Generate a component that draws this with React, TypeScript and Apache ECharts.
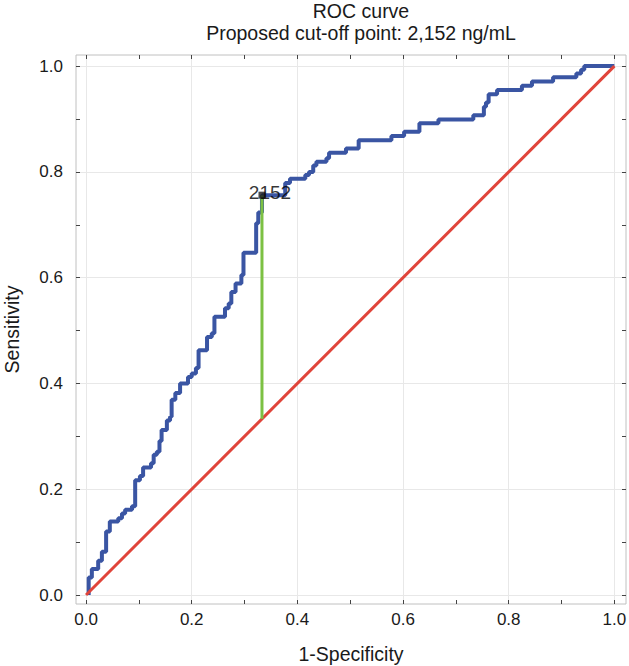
import React, { useEffect, useRef } from "react";
import * as echarts from "echarts";

// ROC curve vertices (step 'end': horizontal to fpr, then up to tpr)
const rocFpr = [
  0.005, 0.005, 0.011, 0.023, 0.03, 0.038, 0.045, 0.061, 0.068, 0.074, 0.087,
  0.093, 0.102, 0.108, 0.123, 0.128, 0.134, 0.139, 0.143, 0.153, 0.159, 0.162,
  0.169, 0.178, 0.193, 0.2, 0.208, 0.213, 0.229, 0.238, 0.243, 0.263, 0.27,
  0.275, 0.283, 0.294, 0.298, 0.322, 0.326, 0.333, 0.377, 0.386, 0.415, 0.422,
  0.43, 0.436, 0.455, 0.46, 0.492, 0.516, 0.578, 0.602, 0.631, 0.667, 0.733,
  0.753, 0.757, 0.762, 0.778, 0.825, 0.844, 0.884, 0.928, 0.937, 0.943, 1.0,
];
const rocTpr = [
  0.0, 0.033, 0.049, 0.065, 0.082, 0.12, 0.139, 0.145, 0.154, 0.161, 0.168,
  0.217, 0.225, 0.241, 0.249, 0.265, 0.271, 0.291, 0.312, 0.33, 0.337, 0.369,
  0.382, 0.4, 0.412, 0.419, 0.429, 0.463, 0.488, 0.495, 0.526, 0.542, 0.551,
  0.573, 0.589, 0.605, 0.647, 0.703, 0.723, 0.756, 0.779, 0.787, 0.794, 0.8,
  0.812, 0.819, 0.826, 0.836, 0.844, 0.86, 0.868, 0.876, 0.892, 0.899, 0.907,
  0.923, 0.931, 0.947, 0.955, 0.963, 0.971, 0.979, 0.986, 0.993, 1.0, 1.0,
];

const diagonal = [
  [0, 0],
  [1, 1],
];

const cutoffFpr = 0.333;
const cutoffTpr = 0.756;
const cutoffLabel = "2152";

const majorTicks = [0, 0.2, 0.4, 0.6, 0.8, 1.0];
const minorTicks = [0, 0.1, 0.2, 0.3, 0.4, 0.5, 0.6, 0.7, 0.8, 0.9, 1.0];

const titleLine1 = "ROC curve";
const titleLine2 = "Proposed cut-off point: 2,152 ng/mL";
const xName = "1-Specificity";
const yName = "Sensitivity";

const FONT = "'Liberation Sans', Arial, Helvetica, sans-serif";

export default function App() {
  const ref = useRef<HTMLDivElement>(null);

  useEffect(() => {
    if (!ref.current) return;
    const chart = echarts.init(ref.current, undefined, { renderer: "svg" });

    const tickCommon = {
      show: true,
      inside: true,
      length: 4,
      customValues: minorTicks,
      lineStyle: { color: "#444", width: 1 },
    };
    const labelCommon = {
      customValues: majorTicks,
      formatter: (v: number) => v.toFixed(1),
      fontSize: 17,
      color: "#1a1a1a",
      fontFamily: FONT,
    };
    const noLine = { show: false, onZero: false };

    const rocData = rocFpr.map((x, i) => [x, rocTpr[i]]);

    const gridLines = [
      ...majorTicks.map((v) => ({ xAxis: v })),
      ...majorTicks.map((v) => ({ yAxis: v })),
    ];

    chart.setOption({
      animation: false,
      backgroundColor: "#ffffff",
      textStyle: { fontFamily: FONT },
      graphic: [
        {
          type: "text",
          x: 361,
          y: 11,
          style: {
            text: titleLine1,
            textAlign: "center",
            textVerticalAlign: "middle",
            fontSize: 19.5,
            fontFamily: FONT,
            fill: "#1a1a1a",
          },
        },
        {
          type: "text",
          x: 361,
          y: 33,
          style: {
            text: titleLine2,
            textAlign: "center",
            textVerticalAlign: "middle",
            fontSize: 19.5,
            fontFamily: FONT,
            fill: "#1a1a1a",
          },
        },
      ],
      grid: {
        left: 76,
        top: 55,
        width: 550,
        height: 549,
        containLabel: false,
        outerBoundsMode: "none",
        show: true,
        borderColor: "#c0c0c0",
        borderWidth: 1,
        backgroundColor: "transparent",
      },
      xAxis: [
        {
          type: "value",
          position: "bottom",
          min: -0.019,
          max: 1.022,
          z: 10,
          axisLine: noLine,
          axisTick: tickCommon,
          axisLabel: { ...labelCommon, margin: 7 },
          splitLine: { show: false },
          name: xName,
          nameLocation: "middle",
          nameGap: 40,
          nameTextStyle: { fontSize: 19.5, color: "#1a1a1a", fontFamily: FONT },
        },
        {
          type: "value",
          position: "top",
          min: -0.019,
          max: 1.022,
          z: 10,
          axisLine: noLine,
          axisTick: tickCommon,
          axisLabel: { show: false },
          splitLine: { show: false },
        },
      ],
      yAxis: [
        {
          type: "value",
          position: "left",
          min: -0.017,
          max: 1.021,
          z: 10,
          axisLine: noLine,
          axisTick: tickCommon,
          axisLabel: { ...labelCommon, margin: 13 },
          splitLine: { show: false },
          name: yName,
          nameLocation: "middle",
          nameGap: 54,
          nameTextStyle: { fontSize: 19.5, color: "#1a1a1a", fontFamily: FONT },
        },
        {
          type: "value",
          position: "right",
          min: -0.017,
          max: 1.021,
          z: 10,
          axisLine: noLine,
          axisTick: tickCommon,
          axisLabel: { show: false },
          splitLine: { show: false },
        },
      ],
      series: [
        {
          type: "line",
          name: "grid",
          data: [[0.5, 0.5]],
          showSymbol: false,
          symbolSize: 0,
          lineStyle: { opacity: 0 },
          silent: true,
          z: 1,
          markLine: {
            silent: true,
            z: 1,
            symbol: ["none", "none"],
            label: { show: false },
            lineStyle: { color: "#e8e8e8", width: 1, type: "solid" },
            data: gridLines,
          },
        },
        {
          type: "line",
          name: "ROC",
          data: rocData,
          step: "end",
          showSymbol: false,
          lineStyle: { color: "#3a55a3", width: 4 },
          z: 3,
        },
        {
          type: "line",
          name: "Reference",
          data: diagonal,
          showSymbol: false,
          lineStyle: { color: "#e0443a", width: 3 },
          z: 4,
        },
        {
          type: "line",
          name: "Youden",
          data: [
            [cutoffFpr, cutoffFpr],
            [cutoffFpr, cutoffTpr],
          ],
          showSymbol: false,
          lineStyle: { color: "#7cc143", width: 3 },
          z: 5,
        },
        {
          type: "scatter",
          name: "Cut-off",
          data: [[cutoffFpr, cutoffTpr]],
          symbol: "rect",
          symbolSize: 7,
          itemStyle: { color: "#1c1c1c" },
          z: 6,
          label: {
            show: true,
            formatter: () => cutoffLabel,
            position: "inside",
            offset: [8, -3],
            fontSize: 19,
            color: "#000",
            textBorderWidth: 0,
            textBorderColor: "transparent",
            fontFamily: FONT,
          },
        },
      ],
    });

    return () => chart.dispose();
  }, []);

  return (
    <div
      ref={ref}
      style={{ position: "absolute", left: 0, top: 0, width: 629, height: 666 }}
    />
  );
}
